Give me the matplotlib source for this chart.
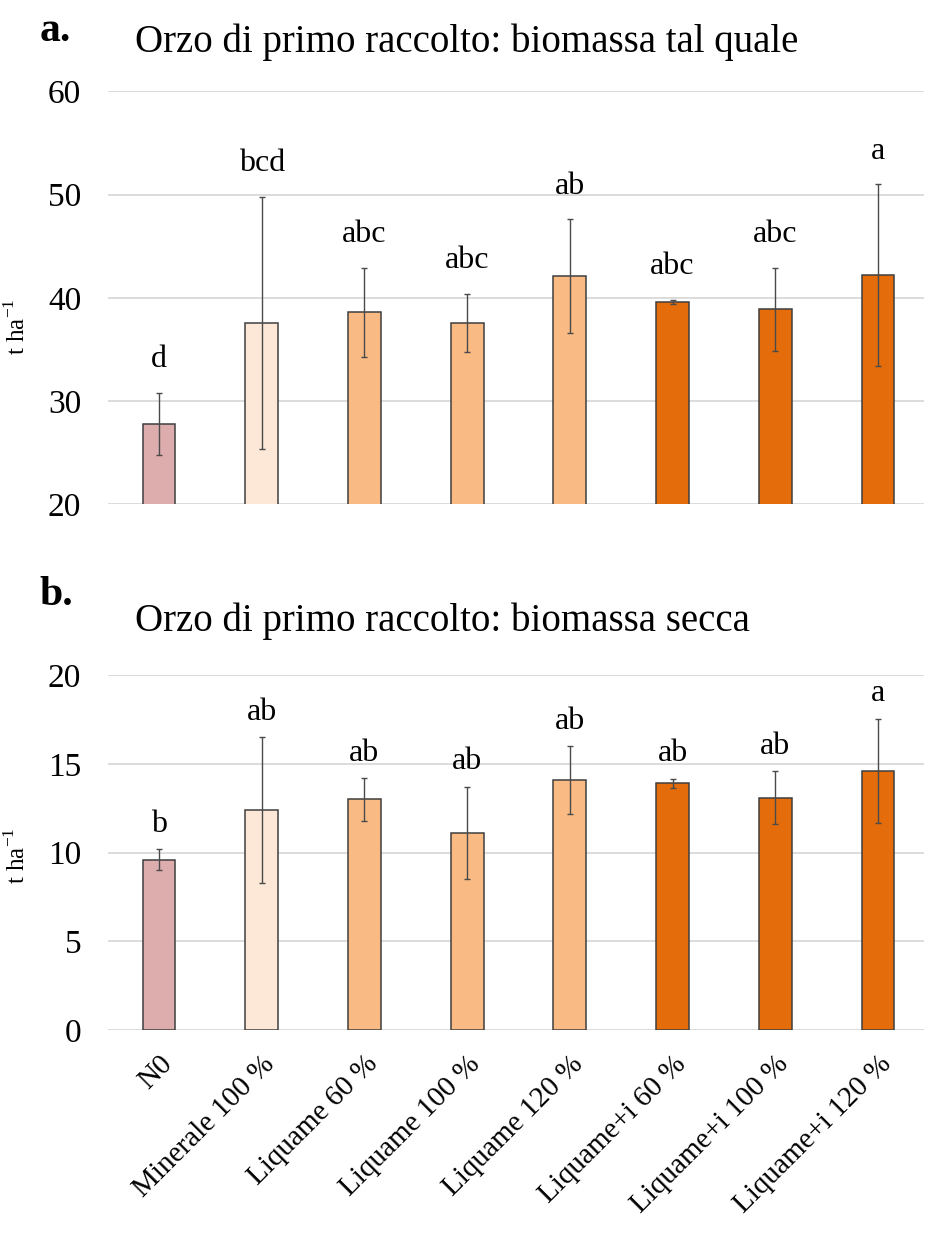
import numpy as np
from matplotlib import pyplot as plt

treatments = ['N0', 'Minerale 100 %', 'Liquame 60 %', 'Liquame 100 %', 'Liquame 120 %',
              'Liquame+i 60 %', 'Liquame+i 100 %', 'Liquame+i 120 %']
bar_colors = ['#DDADAE', '#FDE8D7', '#F9BA84', '#F9BA84', '#F9BA84',
              '#E46C0A', '#E46C0A', '#E46C0A']

# a. fresh biomass (t/ha)
fresh_mean = [27.8, 37.6, 38.6, 37.6, 42.1, 39.6, 38.9, 42.2]
fresh_err = [3.0, 12.2, 4.3, 2.8, 5.5, 0.2, 4.0, 8.8]
fresh_letters = ['d', 'bcd', 'abc', 'abc', 'ab', 'abc', 'abc', 'a']

# b. dry biomass (t/ha)
dry_mean = [9.6, 12.4, 13.0, 11.1, 14.1, 13.9, 13.1, 14.6]
dry_err = [0.6, 4.1, 1.2, 2.6, 1.9, 0.25, 1.5, 2.95]
dry_letters = ['b', 'ab', 'ab', 'ab', 'ab', 'ab', 'ab', 'a']

plt.rcParams['font.family'] = ['Liberation Serif', 'DejaVu Serif']


def draw_panel(ax, means, errs, letters, ylim, yticks, letter_offset, label_y):
    x = np.arange(len(means))
    ax.bar(x, means, width=0.32, color=bar_colors, edgecolor='#3f3f3f',
           linewidth=1.1, zorder=3)
    ax.errorbar(x, means, yerr=errs, fmt='none', ecolor='#4a4a4a',
                elinewidth=1.0, capsize=2.5, capthick=1.0, zorder=4)
    for xi, m, e, lab in zip(x, means, errs, letters):
        ax.annotate(lab, (xi, m + e), xytext=(0, letter_offset),
                    textcoords='offset points', ha='center', va='center',
                    fontsize=23)
    ax.set_ylim(*ylim)
    ax.set_yticks(yticks)
    ax.set_xlim(-0.5, 7.45)
    ax.grid(axis='y', color='#d9d9d9', linewidth=1.3, zorder=0)
    ax.set_axisbelow(True)
    for s in ax.spines.values():
        s.set_visible(False)
    ax.tick_params(axis='both', length=0, labelsize=24)
    ax.tick_params(axis='y', pad=19)
    ax.set_ylabel('t ha$^{\\mathregular{-1}}$', fontsize=18)
    ax.yaxis.set_label_coords(-0.095, label_y)


fig = plt.figure(figsize=(9.28, 12.36), dpi=100)
ax1 = fig.add_axes([0.116, 0.592, 0.88, 0.334])
ax2 = fig.add_axes([0.116, 0.1667, 0.88, 0.287])

draw_panel(ax1, fresh_mean, fresh_err, fresh_letters, (20, 60), [20, 30, 40, 50, 60], 24, 0.43)
ax1.set_xticks(np.arange(len(treatments)))
ax1.set_xticklabels([])

draw_panel(ax2, dry_mean, dry_err, dry_letters, (0, 20), [0, 5, 10, 15, 20], 18, 0.49)
ax2.set_xticks(np.arange(len(treatments)))
ax2.set_xticklabels(treatments, rotation=45, ha='right', rotation_mode='anchor', fontsize=21)
ax2.tick_params(axis='x', pad=15)

fig.text(0.043, 0.975, 'a.', fontsize=30, fontweight='bold', va='center')
fig.text(0.145, 0.966, 'Orzo di primo raccolto: biomassa tal quale', fontsize=28, va='center')
fig.text(0.043, 0.519, 'b.', fontsize=30, fontweight='bold', va='center')
fig.text(0.145, 0.497, 'Orzo di primo raccolto: biomassa secca', fontsize=28, va='center')

fig.savefig('out.png', dpi=100)
